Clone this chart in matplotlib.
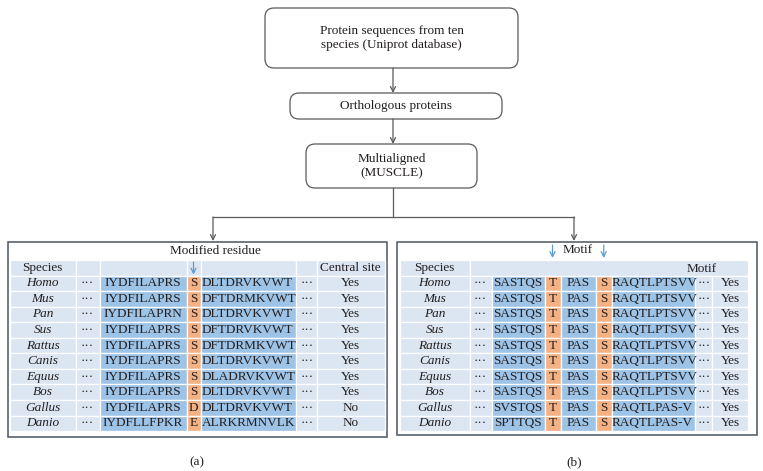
import matplotlib
matplotlib.use('Agg')
import matplotlib.pyplot as plt
from matplotlib.patches import Rectangle, FancyBboxPatch

plt.rcParams['font.family'] = ['Liberation Serif', 'DejaVu Serif']

# data
species = ['Homo', 'Mus', 'Pan', 'Sus', 'Rattus', 'Canis', 'Equus', 'Bos', 'Gallus', 'Danio']

left_a = ['IYDFILAPRS', 'IYDFILAPRS', 'IYDFILAPRN', 'IYDFILAPRS', 'IYDFILAPRS',
          'IYDFILAPRS', 'IYDFILAPRS', 'IYDFILAPRS', 'IYDFILAPRS', 'IYDFLLFPKR']
residue_a = ['S', 'S', 'S', 'S', 'S', 'S', 'S', 'S', 'D', 'E']
right_a = ['DLTDRVKVWT', 'DFTDRMKVWT', 'DLTDRVKVWT', 'DFTDRVKVWT', 'DFTDRMKVWT',
           'DLTDRVKVWT', 'DLADRVKVWT', 'DLTDRVKVWT', 'DLTDRVKVWT', 'ALRKRMNVLK']
central_site = ['Yes', 'Yes', 'Yes', 'Yes', 'Yes', 'Yes', 'Yes', 'Yes', 'No', 'No']

left_b = ['SASTQS', 'SASTQS', 'SASTQS', 'SASTQS', 'SASTQS',
          'SASTQS', 'SASTQS', 'SASTQS', 'SVSTQS', 'SPTTQS']
res1_b = ['T'] * 10
mid_b = ['PAS'] * 10
res2_b = ['S'] * 10
right_b = ['RAQTLPTSVV', 'RAQTLPTSVV', 'RAQTLPTSVV', 'RAQTLPTSVV', 'RAQTLPTSVV',
           'RAQTLPTSVV', 'RAQTLPTSVV', 'RAQTLPTSVV', 'RAQTLPAS-V', 'RAQTLPAS-V']
motif_b = ['Yes'] * 10

flow_steps = ['Protein sequences from ten\nspecies (Uniprot database)',
              'Orthologous proteins',
              'Multialigned\n(MUSCLE)']

# colours
BLUE = '#9DC3E6'
ORANGE = '#F4B183'
LIGHT = '#DCE6F2'
ARROW_BLUE = '#5B9BD5'
GREY = '#5a5a5a'
TXT = '#231F20'
FS = 9.5
DOTS = '\u00b7\u00b7\u00b7'

fig = plt.figure(figsize=(7.63, 4.71), dpi=100)
ax = fig.add_axes([0, 0, 1, 1])
ax.set_xlim(0, 763)
ax.set_ylim(471, 0)
ax.axis('off')


def cell(x0, x1, y0, y1, color):
    ax.add_patch(Rectangle((x0, y0), x1 - x0, y1 - y0, facecolor=color,
                           edgecolor='white', linewidth=0.9))


def txt(x, y, s, ha='center', **kw):
    ax.text(x, y, s, ha=ha, va='center', fontsize=FS, color=TXT, **kw)


def down_arrow(x, y0, y1, color, lw=0.9):
    ax.annotate('', xy=(x, y1), xytext=(x, y0),
                arrowprops=dict(arrowstyle='->', color=color, lw=lw,
                                shrinkA=0, shrinkB=0, mutation_scale=9))


# ---- flowchart ----
boxes = [(265, 8, 518, 68), (290, 93, 502, 119), (306, 144, 477, 188)]
for (x0, y0, x1, y1), label in zip(boxes, flow_steps):
    ax.add_patch(FancyBboxPatch((x0, y0), x1 - x0, y1 - y0,
                                boxstyle='round,pad=0,rounding_size=9',
                                facecolor='white', edgecolor=GREY, lw=0.9))
    ax.text((x0 + x1) / 2, (y0 + y1) / 2, label, ha='center', va='center',
            fontsize=FS, linespacing=1.3, color=TXT)

cx = 393
down_arrow(cx, 68, 93, GREY)
down_arrow(cx, 119, 144, GREY)
ax.plot([cx, cx], [188, 217], color=GREY, lw=0.9)
ax.plot([213, 574], [217, 217], color=GREY, lw=0.9)
down_arrow(213, 217, 241, GREY)
down_arrow(574, 217, 241, GREY)

# ---- table geometry ----
top = 260
row_h = 15.55
n = len(species)

# ---- panel (a) ----
ax.add_patch(Rectangle((8, 242), 379, 195, facecolor='white', edgecolor='#4a5560', lw=1.1))
txt(215, 251, 'Modified residue')
a_edges = [10, 75.5, 99.5, 186.5, 200.5, 295.5, 316.5, 385]
a_colors = [LIGHT, LIGHT, BLUE, ORANGE, BLUE, LIGHT, LIGHT]
for j in range(len(a_edges) - 1):
    cell(a_edges[j], a_edges[j + 1], top, top + row_h, LIGHT)
txt((a_edges[0] + a_edges[1]) / 2, top + row_h / 2, 'Species')
txt((a_edges[6] + a_edges[7]) / 2, top + row_h / 2, 'Central site')
down_arrow((a_edges[3] + a_edges[4]) / 2, top + 2, top + row_h - 1, ARROW_BLUE)

for i in range(n):
    y0 = top + (i + 1) * row_h
    y1 = y0 + row_h
    yc = (y0 + y1) / 2
    for j in range(len(a_edges) - 1):
        cell(a_edges[j], a_edges[j + 1], y0, y1, a_colors[j])
    txt((a_edges[0] + a_edges[1]) / 2, yc, species[i], style='italic')
    txt((a_edges[1] + a_edges[2]) / 2, yc, DOTS)
    txt((a_edges[2] + a_edges[3]) / 2, yc, left_a[i])
    txt((a_edges[3] + a_edges[4]) / 2, yc, residue_a[i])
    txt(a_edges[4] + 1.5, yc, right_a[i], ha='left')
    txt((a_edges[5] + a_edges[6]) / 2 + 1, yc, DOTS)
    txt((a_edges[6] + a_edges[7]) / 2, yc, central_site[i])

# ---- panel (b) ----
ax.add_patch(Rectangle((397, 242), 360, 193, facecolor='white', edgecolor='#4a5560', lw=1.1))
b_edges = [400, 469.5, 491.5, 544.5, 560.5, 596, 611.5, 695, 712, 748]
b_colors = [LIGHT, LIGHT, BLUE, ORANGE, BLUE, ORANGE, BLUE, LIGHT, LIGHT]
cell(b_edges[0], b_edges[1], top, top + row_h, LIGHT)
cell(b_edges[1], b_edges[-1], top, top + row_h, LIGHT)
txt((b_edges[0] + b_edges[1]) / 2, top + row_h / 2, 'Species')
txt(702, top + row_h / 2 + 1, 'Motif')
txt(578, 250, 'Motif')
down_arrow((b_edges[3] + b_edges[4]) / 2, 245, 258, ARROW_BLUE)
down_arrow((b_edges[5] + b_edges[6]) / 2, 245, 258, ARROW_BLUE)

for i in range(n):
    y0 = top + (i + 1) * row_h
    y1 = y0 + row_h
    yc = (y0 + y1) / 2
    for j in range(len(b_edges) - 1):
        cell(b_edges[j], b_edges[j + 1], y0, y1, b_colors[j])
    txt((b_edges[0] + b_edges[1]) / 2, yc, species[i], style='italic')
    txt((b_edges[1] + b_edges[2]) / 2, yc, DOTS)
    txt((b_edges[2] + b_edges[3]) / 2, yc, left_b[i])
    txt((b_edges[3] + b_edges[4]) / 2, yc, res1_b[i])
    txt((b_edges[4] + b_edges[5]) / 2, yc, mid_b[i])
    txt((b_edges[5] + b_edges[6]) / 2, yc, res2_b[i])
    txt(b_edges[6] + 0.5, yc, right_b[i], ha='left')
    txt(b_edges[7] + 9, yc, DOTS)
    txt((b_edges[8] + b_edges[9]) / 2, yc, motif_b[i])

txt(197, 462, '(a)')
txt(574, 462, '(b)')

fig.savefig('out.png', dpi=100)
